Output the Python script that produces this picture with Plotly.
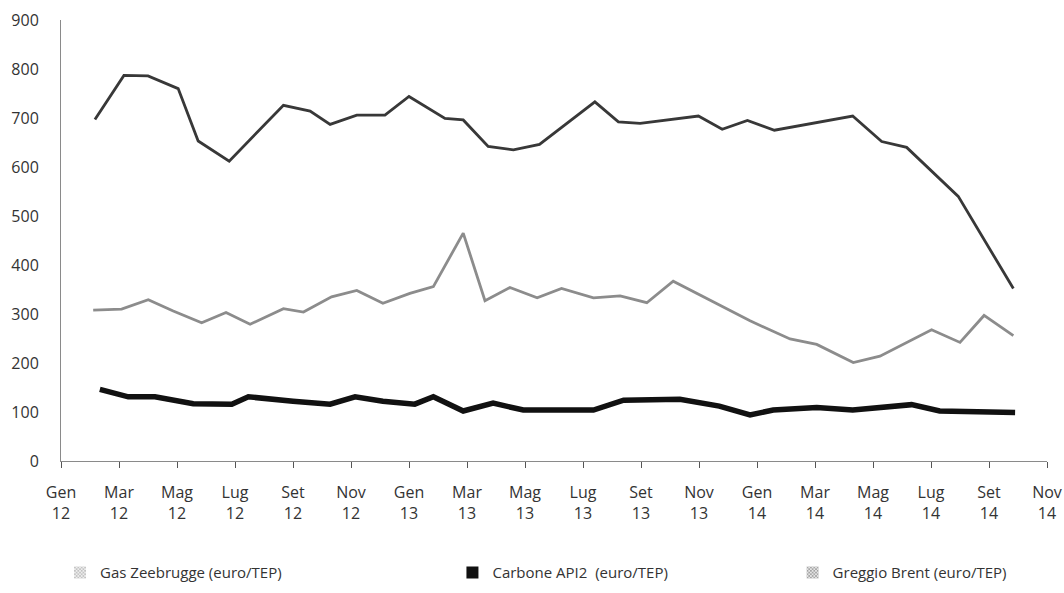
import plotly.graph_objects as go

# x values are months counted from January 2012 (0 = Gen 12)
tick_months = list(range(0, 35, 2))
tick_labels = [
    "Gen<br>12", "Mar<br>12", "Mag<br>12", "Lug<br>12", "Set<br>12", "Nov<br>12",
    "Gen<br>13", "Mar<br>13", "Mag<br>13", "Lug<br>13", "Set<br>13", "Nov<br>13",
    "Gen<br>14", "Mar<br>14", "Mag<br>14", "Lug<br>14", "Set<br>14", "Nov<br>14",
]

brent_months = [1.17, 2.17, 3.0, 4.04, 4.73, 5.8, 7.67, 8.59, 9.28, 10.2, 11.17, 12.0,
                13.24, 13.87, 14.73, 15.6, 16.5, 18.41, 19.22, 19.97, 21.98, 22.8,
                23.67, 24.6, 27.3, 28.3, 29.16, 30.94, 32.84]
brent_values = [697, 787, 786, 760, 653, 612, 726, 714, 687, 706, 706, 744,
                699, 696, 642, 635, 646, 733, 692, 689, 704, 677,
                695, 675, 704, 652, 640, 540, 352]

gas_months = [1.11, 2.09, 3.01, 3.87, 4.85, 5.69, 6.52, 7.67, 8.36, 9.33, 10.2, 11.1,
              12.03, 12.84, 13.87, 14.62, 15.48, 16.42, 17.26, 18.36, 19.28, 20.2,
              21.11, 23.76, 25.14, 26.06, 27.32, 28.24, 30.02, 31.0, 31.83, 32.84]
gas_values = [308, 310, 329, 306, 282, 303, 279, 311, 304, 335, 348, 322,
              342, 356, 465, 327, 354, 333, 352, 333, 337, 323,
              367, 286, 249, 238, 201, 214, 268, 242, 297, 256]

coal_months = [1.34, 2.32, 3.24, 4.56, 5.89, 6.46, 8.0, 9.28, 10.14, 11.1, 12.2, 12.84,
               13.87, 14.9, 15.94, 18.36, 19.4, 21.34, 22.7, 23.76, 24.56, 26.06,
               27.3, 29.33, 30.3, 32.9]
coal_values = [146, 131, 131, 117, 116, 131, 122, 116, 131, 122, 116, 131,
               102, 118, 104, 104, 124, 126, 112, 94, 104, 109,
               104, 115, 102, 99]

series_names = ["Gas Zeebrugge (euro/TEP)", "Carbone API2  (euro/TEP)", "Greggio Brent (euro/TEP)"]

FONT = "Open Sans, Noto Sans, sans-serif"

fig = go.Figure()

fig.add_trace(go.Scatter(x=brent_months, y=brent_values, mode="lines",
                         line=dict(color="#383838", width=2.8), showlegend=False))
fig.add_trace(go.Scatter(x=gas_months, y=gas_values, mode="lines",
                         line=dict(color="#8c8c8c", width=2.8), showlegend=False))
fig.add_trace(go.Scatter(x=coal_months, y=coal_values, mode="lines",
                         line=dict(color="#111111", width=5.5), showlegend=False))

# legend swatches (hatched blocks like the print original)
swatches = [
    (series_names[0], "#808080", "x", "legend"),
    (series_names[1], "#111111", "", "legend2"),
    (series_names[2], "#404040", "x", "legend3"),
]
for name, col, shape, leg in swatches:
    fig.add_trace(go.Bar(
        x=[None], y=[None], name=name, legend=leg,
        marker=dict(color="white" if shape else col, line=dict(width=0),
                    pattern=dict(shape=shape, fgcolor=col, bgcolor="white", size=3, solidity=0.6)),
    ))

# legends sit in container coordinates so they don't squeeze the plot area
leg_common = dict(orientation="h", yref="container", yanchor="middle", y=0.034,
                  xanchor="left", font=dict(family=FONT, size=15, color="#333333"),
                  bgcolor="rgba(0,0,0,0)", itemwidth=30)

fig.update_layout(
    width=1064, height=593,
    margin=dict(l=61, r=17, t=20, b=132),
    plot_bgcolor="white", paper_bgcolor="white",
    font=dict(family=FONT, size=16, color="#333333"),
    legend=dict(x=-0.001, **leg_common),
    legend2=dict(x=0.397, **leg_common),
    legend3=dict(x=0.742, **leg_common),
    xaxis=dict(
        range=[0, 34], tickmode="array", tickvals=tick_months, ticktext=tick_labels,
        showgrid=False, zeroline=False, showline=True, linecolor="#8a8a8a", linewidth=1,
        ticks="outside", ticklen=6, tickcolor="#555555", tickwidth=1,
        ticklabelstandoff=11, automargin=False,
        tickfont=dict(family=FONT, size=16, color="#333333"),
    ),
    yaxis=dict(
        range=[0, 900], tickmode="array", tickvals=list(range(0, 901, 100)),
        showgrid=False, zeroline=False, showline=True, linecolor="#8a8a8a", linewidth=1,
        ticks="", ticklabelstandoff=18, automargin=False,
        tickfont=dict(family=FONT, size=16, color="#333333"),
    ),
)

# drop the browser's default body margin so the figure fills the window exactly
fig.write_html("out.html", config={"displayModeBar": False},
               post_script="document.body.style.margin = '0';")
